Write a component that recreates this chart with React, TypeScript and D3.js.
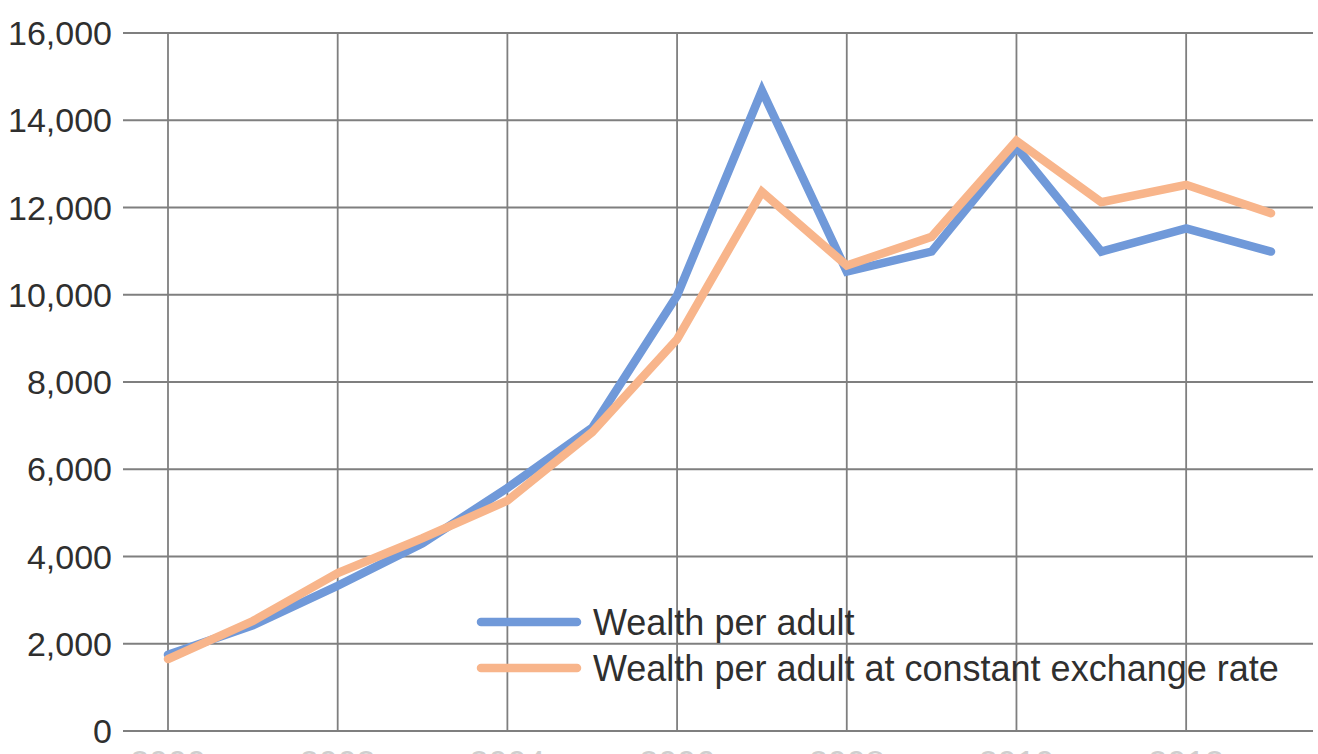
import React from 'react';
import * as d3 from 'd3';

const years = [2000, 2001, 2002, 2003, 2004, 2005, 2006, 2007, 2008, 2009, 2010, 2011, 2012, 2013];
const wealthPerAdult = [1750, 2420, 3330, 4300, 5570, 6950, 9980, 14680, 10530, 10990, 13380, 10990, 11520, 10990];
const wealthConstantFx = [1650, 2520, 3620, 4420, 5280, 6850, 8980, 12360, 10670, 11330, 13530, 12120, 12520, 11870];
const yTicks = [0, 2000, 4000, 6000, 8000, 10000, 12000, 14000, 16000];
const xTicks = [2000, 2002, 2004, 2006, 2008, 2010, 2012];
const seriesNames = ['Wealth per adult', 'Wealth per adult at constant exchange rate'];
const seriesColors = ['#7099d9', '#f8b58b'];

const W = 1318;
const H = 754;

const App = () => {
  const x = d3.scaleLinear().domain([2000, 2013]).range([168, 1271]);
  const y = d3.scaleLinear().domain([0, 16000]).range([731, 33]);
  const gridLeft = 123;
  const gridRight = 1313;
  const fmt = d3.format(',');

  const line = d3.line<number>()
    .x((_, i) => x(years[i]))
    .y(d => y(d));

  const series = [wealthPerAdult, wealthConstantFx];
  const font = '"Liberation Sans", Arial, sans-serif';

  return (
    <svg width={W} height={H} style={{ position: 'absolute', left: 0, top: 0, background: '#fff' }}>
      {/* grid */}
      {yTicks.map(t => (
        <line key={'h' + t} x1={gridLeft} x2={gridRight} y1={y(t)} y2={y(t)} stroke="#7f7f7f" strokeWidth={1.8} />
      ))}
      {xTicks.map(t => (
        <line key={'v' + t} x1={x(t)} x2={x(t)} y1={y(16000)} y2={y(0)} stroke="#7f7f7f" strokeWidth={1.8} />
      ))}
      {/* y labels */}
      {yTicks.map(t => (
        <text key={'yl' + t} x={112} y={y(t)} dy="0.36em" textAnchor="end" fontSize={34} fontFamily={font} fill="#2f2f2f">
          {fmt(t)}
        </text>
      ))}
      {/* x labels, mostly below the frame as in the source */}
      {xTicks.map(t => (
        <text key={'xl' + t} x={x(t)} y={774} textAnchor="middle" fontSize={34} fontFamily={font} fill="#cfcfcf">
          {t}
        </text>
      ))}
      {/* lines */}
      {series.map((s, i) => (
        <path key={'s' + i} d={line(s) || ''} fill="none" stroke={seriesColors[i]} strokeWidth={8.5} strokeLinejoin="miter" strokeLinecap="round" />
      ))}
      {/* legend */}
      {seriesNames.map((name, i) => (
        <g key={'lg' + i} transform={`translate(481, ${622 + i * 46})`}>
          <line x1={0} x2={96} y1={0} y2={0} stroke={seriesColors[i]} strokeWidth={8.5} strokeLinecap="round" />
          <text x={112} y={0} dy="0.36em" fontSize={36} fontFamily={font} fill="#2f2f2f">{name}</text>
        </g>
      ))}
    </svg>
  );
};

export default App;
